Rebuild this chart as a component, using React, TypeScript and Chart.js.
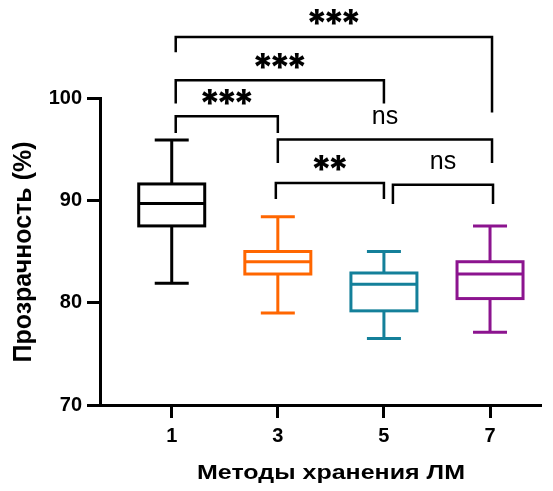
import { useEffect, useRef } from 'react';
import { Chart, registerables } from 'chart.js';

Chart.register(...registerables);

// Storage methods (x categories) and box-plot summaries of transparency, %
const categories = ['1', '3', '5', '7'];
const whiskerHigh = [95.9, 88.4, 85.0, 87.5];
const upperQuartile = [91.6, 85.0, 82.9, 84.0];
const medianValues = [89.7, 84.0, 81.8, 82.8];
const lowerQuartile = [87.5, 82.8, 79.2, 80.4];
const whiskerLow = [81.9, 79.0, 76.5, 77.1];

const yTicks = [70, 80, 90, 100];

// Pairwise comparisons (group indices) and their significance marks
const pairFrom = [0, 0, 0, 1, 1, 2];
const pairTo = [3, 2, 1, 3, 2, 3];
const pairLabels = ['***', '***', '***', 'ns', '**', 'ns'];
// Bracket heights and leg ends, in % units of the y scale
const bracketLevel = [105.97, 101.74, 98.22, 95.94, 91.7, 91.53];
const legEndFrom = [104.48, 99.46, 96.59, 93.66, 90.13, 89.64];
const legEndTo = [98.58, 99.46, 96.59, 93.66, 90.13, 89.64];

const BOX_COLORS = ['#000000', '#FF6600', '#14809A', '#8C148F'];
const FONT = '"Liberation Sans", Arial, Helvetica, sans-serif';
const STAR_FONT = 'Inter, "DejaVu Sans", sans-serif';
const LEG_NUDGE_FROM = [4, 4, 4, 0, -2, 9];
const LEG_NUDGE_TO = [2, 0, 0, 2, 0, 3];

const boxPlotPlugin = {
  id: 'boxPlot',
  afterDatasetsDraw(chart: any) {
    const { ctx } = chart;
    const x = chart.scales.x;
    const y = chart.scales.y;
    ctx.save();
    ctx.lineWidth = 3;
    ctx.lineCap = 'butt';
    ctx.lineJoin = 'miter';
    const half = 33;
    const capHalf = 17;
    categories.forEach((_, i) => {
      const cx = x.getPixelForValue(i);
      const yHi = y.getPixelForValue(whiskerHigh[i]);
      const yQ3 = y.getPixelForValue(upperQuartile[i]);
      const yMed = y.getPixelForValue(medianValues[i]);
      const yQ1 = y.getPixelForValue(lowerQuartile[i]);
      const yLo = y.getPixelForValue(whiskerLow[i]);
      ctx.strokeStyle = BOX_COLORS[i];
      ctx.beginPath();
      ctx.moveTo(cx, yHi);
      ctx.lineTo(cx, yQ3);
      ctx.moveTo(cx, yQ1);
      ctx.lineTo(cx, yLo);
      ctx.moveTo(cx - capHalf, yHi);
      ctx.lineTo(cx + capHalf, yHi);
      ctx.moveTo(cx - capHalf, yLo);
      ctx.lineTo(cx + capHalf, yLo);
      ctx.moveTo(cx - half, yMed);
      ctx.lineTo(cx + half, yMed);
      ctx.stroke();
      ctx.strokeRect(cx - half, yQ3, 2 * half, yQ1 - yQ3);
    });
    ctx.restore();
  },
};

const bracketPlugin = {
  id: 'significance',
  afterDraw(chart: any) {
    const { ctx } = chart;
    const x = chart.scales.x;
    const y = chart.scales.y;
    ctx.save();
    ctx.strokeStyle = '#000';
    ctx.fillStyle = '#000';
    ctx.lineWidth = 2.5;
    ctx.lineJoin = 'miter';
    ctx.lineCap = 'butt';
    pairLabels.forEach((label, k) => {
      const x1 = x.getPixelForValue(pairFrom[k]) + LEG_NUDGE_FROM[k];
      const x2 = x.getPixelForValue(pairTo[k]) + LEG_NUDGE_TO[k];
      const yb = y.getPixelForValue(bracketLevel[k]);
      ctx.beginPath();
      ctx.moveTo(x1, y.getPixelForValue(legEndFrom[k]));
      ctx.lineTo(x1, yb);
      ctx.lineTo(x2, yb);
      ctx.lineTo(x2, y.getPixelForValue(legEndTo[k]));
      ctx.stroke();
      const mid = (x1 + x2) / 2;
      if (label === 'ns') {
        ctx.font = `25px ${FONT}`;
        ctx.textAlign = 'center';
        ctx.textBaseline = 'alphabetic';
        const m = ctx.measureText('n');
        const cy = yb - 22.3;
        ctx.fillText(label, mid, cy + m.actualBoundingBoxAscent / 2);
      } else {
        ctx.font = `800 38px ${STAR_FONT}`;
        ctx.textAlign = 'center';
        ctx.textBaseline = 'alphabetic';
        const m = ctx.measureText('*');
        const cy = yb - 19.5;
        const base = cy + (m.actualBoundingBoxAscent - m.actualBoundingBoxDescent) / 2;
        const step = 17;
        const n = label.length;
        for (let j = 0; j < n; j++) {
          ctx.fillText(label[j], mid + (j - (n - 1) / 2) * step, base);
        }
      }
    });

    // axis titles
    ctx.textAlign = 'center';
    ctx.textBaseline = 'middle';
    ctx.save();
    ctx.translate(331, 473);
    ctx.scale(1.22, 1);
    ctx.font = `bold 20.5px ${FONT}`;
    ctx.fillText('Методы хранения ЛМ', 0, 0);
    ctx.restore();
    ctx.save();
    ctx.translate(24, 252);
    ctx.rotate(-Math.PI / 2);
    ctx.font = `bold 25px ${FONT}`;
    ctx.fillText('Прозрачность (%)', 0, 0);
    ctx.restore();
    ctx.restore();
  },
};

export default function App() {
  const canvasRef = useRef<HTMLCanvasElement | null>(null);

  useEffect(() => {
    document.body.style.margin = '0';
    const canvas = canvasRef.current;
    if (!canvas) return;
    const axisGrid = {
      drawOnChartArea: false,
      drawTicks: true,
      tickLength: 13,
      color: '#000',
      lineWidth: 3,
    };
    const axisBorder = { display: true, color: '#000', width: 3 };
    const tickFont = { family: FONT, size: 20, weight: 'bold' as const };
    const chart = new Chart(canvas, {
      type: 'scatter',
      data: { datasets: [] },
      options: {
        responsive: false,
        animation: false,
        devicePixelRatio: 1,
        layout: { padding: { top: 98, right: 13, left: 0, bottom: 0 } },
        plugins: {
          legend: { display: false },
          tooltip: { enabled: false },
        },
        scales: {
          x: {
            type: 'linear',
            min: -0.676,
            max: 3.471,
            afterBuildTicks: (s: any) => {
              s.ticks = categories.map((_, i) => ({ value: i }));
            },
            afterFit: (s: any) => {
              s.height = 86;
            },
            ticks: {
              callback: (v: any) => categories[Math.round(Number(v))],
              font: tickFont,
              color: '#000',
              padding: 6,
              maxRotation: 0,
              autoSkip: false,
            },
            grid: axisGrid,
            border: axisBorder,
          },
          y: {
            type: 'linear',
            min: 70,
            max: 100,
            afterBuildTicks: (s: any) => {
              s.ticks = yTicks.map((v) => ({ value: v }));
            },
            afterFit: (s: any) => {
              s.width = 100;
            },
            ticks: {
              font: tickFont,
              color: '#000',
              padding: 5,
            },
            grid: axisGrid,
            border: axisBorder,
          },
        },
      },
      plugins: [boxPlotPlugin, bracketPlugin],
    });
    return () => chart.destroy();
  }, []);

  return (
    <div style={{ width: 553, height: 491, background: '#fff' }}>
      <canvas ref={canvasRef} width={553} height={491} />
    </div>
  );
}
